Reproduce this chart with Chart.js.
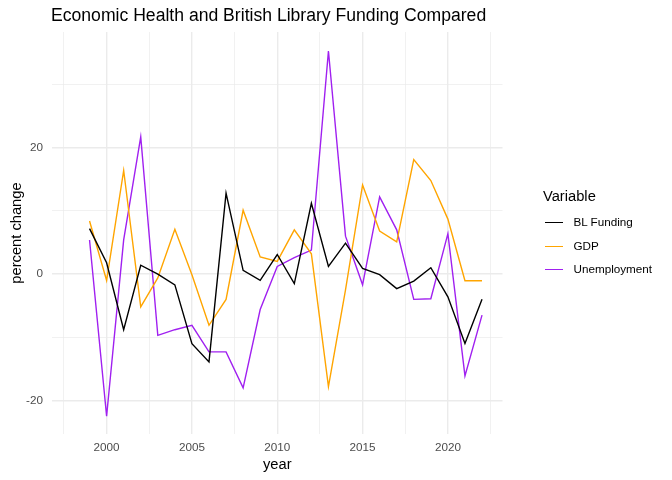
<!DOCTYPE html>
<html lang="en">
<head>
  <meta charset="UTF-8" />
  <title>Economic Health and British Library Funding Compared</title>
  <script src="https://cdn.jsdelivr.net/npm/chart.js"></script>
  <style>
    html, body {
      margin: 0;
      padding: 0;
      background: #fff;
      font-family: "Liberation Sans", Arial, sans-serif;
    }

    #wrap {
      position: relative;
      width: 672px;
      height: 480px;
    }

    #titulo {
      position: absolute;
      left: 51px;
      top: 7px;
      font-size: 17.6px;
      line-height: 1;
      color: #000;
      white-space: nowrap;
    }

    #legenda {
      position: absolute;
      left: 543px;
      top: 189px;
    }

    #legenda .tit {
      font-size: 14.7px;
      line-height: 1;
      color: #000;
    }

    #legenda .item {
      position: absolute;
      left: 0;
      width: 130px;
      height: 14px;
    }

    #legenda .chave {
      position: absolute;
      left: 2px;
      width: 17.5px;
      height: 1.4px;
      top: 6px;
    }

    #legenda .rot {
      position: absolute;
      left: 30.5px;
      top: 0;
      font-size: 11.7px;
      line-height: 1;
      color: #000;
      white-space: nowrap;
    }
  </style>
</head>
<body>
  <div id="wrap">
    <canvas id="grafico" width="672" height="480"></canvas>
    <div id="titulo">Economic Health and British Library Funding Compared</div>
    <div id="legenda"><div class="tit">Variable</div></div>
  </div>

  <script>
    const anos = [1999, 2000, 2001, 2002, 2003, 2004, 2005, 2006, 2007, 2008, 2009, 2010,
                  2011, 2012, 2013, 2014, 2015, 2016, 2017, 2018, 2019, 2020, 2021, 2022];

    const blFunding = [7.2, 1.8, -8.8, 1.4, 0.0, -1.7, -11.0, -13.9, 12.8, 0.6, -1.0, 3.1,
                       -1.5, 11.2, 1.2, 4.9, 0.9, -0.1, -2.3, -1.1, 1.0, -3.6, -11.0, -4.0];

    const gdp = [8.4, -1.0, 16.4, -5.2, -0.6, 7.1, -0.1, -8.1, -4.0, 10.1, 2.7, 2.0,
                 7.0, 3.2, -17.8, -2.5, 14.1, 6.8, 5.1, 18.1, 14.8, 8.7, -1.05, -1.05];

    const desemprego = [5.4, -22.5, 5.4, 21.7, -9.7, -8.8, -8.1, -12.3, -12.3, -18.0, -5.6, 1.2,
                        2.6, 3.8, 35.3, 6.0, -1.7, 12.2, 7.0, -4.0, -3.9, 6.4, -16.1, -6.5];

    const nomesSeries = ["BL Funding", "GDP", "Unemployment"];
    const cores = ["#000000", "#FFA500", "#A020F0"];

    // grade: linhas principais com rótulo, secundárias sem
    const ticksX = [1997.5, 2000, 2002.5, 2005, 2007.5, 2010, 2012.5, 2015, 2017.5, 2020, 2022.5];
    const rotulosX = [2000, 2005, 2010, 2015, 2020];
    const ticksY = [-20, -10, 0, 10, 20, 30];
    const rotulosY = [-20, 0, 20];

    const series = [blFunding, gdp, desemprego];

    const datasets = series.map((valores, i) => ({
      label: nomesSeries[i],
      data: anos.map((a, j) => ({ x: a, y: valores[j] })),
      borderColor: cores[i],
      borderWidth: 1.4,
      pointRadius: 0,
      tension: 0,
      fill: false
    }));

    const corGrade = "#EBEBEB";

    new Chart(document.getElementById("grafico").getContext("2d"), {
      type: "line",
      data: { datasets },
      options: {
        responsive: false,
        animation: false,
        layout: {
          padding: { top: 32, right: 169.5, bottom: 0, left: 0 }
        },
        plugins: {
          legend: { display: false },
          title: { display: false },
          tooltip: { enabled: false }
        },
        scales: {
          x: {
            type: "linear",
            min: 1996.8,
            max: 2023.2,
            afterBuildTicks: s => { s.ticks = ticksX.map(v => ({ value: v })); },
            afterFit: s => { s.height = 46; },
            border: { display: false },
            grid: {
              color: corGrade,
              drawTicks: false,
              lineWidth: ctx => rotulosX.includes(ctx.tick.value) ? 1.4 : 0.7
            },
            ticks: {
              autoSkip: false,
              maxRotation: 0,
              padding: 7,
              color: "#4D4D4D",
              font: { family: "'Liberation Sans', Arial", size: 11.7 },
              callback: v => rotulosX.includes(v) ? String(v) : ""
            },
            title: {
              display: true,
              text: "year",
              color: "#000",
              padding: { top: 0, bottom: 6 },
              font: { family: "'Liberation Sans', Arial", size: 14.7 }
            }
          },
          y: {
            type: "linear",
            min: -25.3,
            max: 38.3,
            afterBuildTicks: s => { s.ticks = ticksY.map(v => ({ value: v })); },
            afterFit: s => { s.width = 52; },
            border: { display: false },
            grid: {
              color: corGrade,
              drawTicks: false,
              lineWidth: ctx => rotulosY.includes(ctx.tick.value) ? 1.4 : 0.7
            },
            ticks: {
              padding: 9,
              color: "#4D4D4D",
              font: { family: "'Liberation Sans', Arial", size: 11.7 },
              callback: v => rotulosY.includes(v) ? String(v) : ""
            },
            title: {
              display: true,
              text: "percent change",
              color: "#000",
              padding: { top: 8, bottom: 0 },
              font: { family: "'Liberation Sans', Arial", size: 14.7 }
            }
          }
        }
      }
    });

    // legenda à direita, montada a partir das séries
    const legenda = document.getElementById("legenda");
    nomesSeries.forEach((nome, i) => {
      const item = document.createElement("div");
      item.className = "item";
      item.style.top = (27 + i * 23.5) + "px";
      item.innerHTML = '<div class="chave" style="background:' + cores[i] + '"></div>' +
                       '<div class="rot">' + nome + '</div>';
      legenda.appendChild(item);
    });
  </script>
</body>
</html>
